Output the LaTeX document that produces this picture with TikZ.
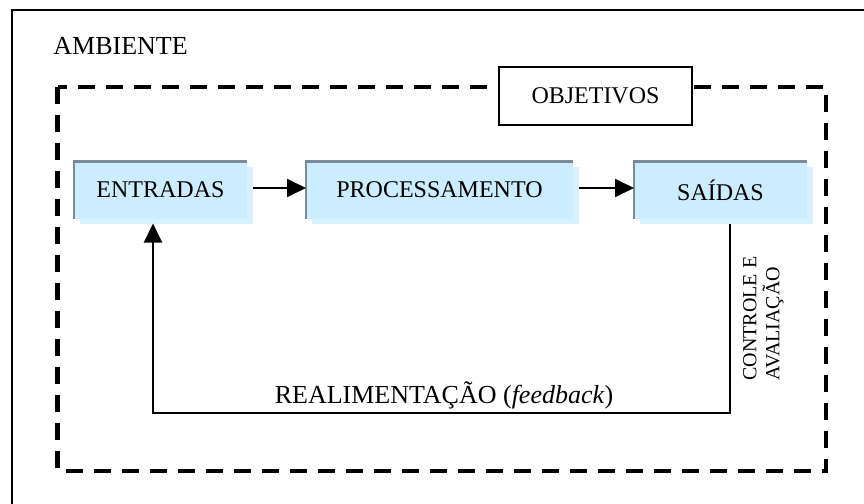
\documentclass[tikz,border=0pt]{standalone}
\usepackage{fontspec}
\setmainfont{Liberation Serif}
\usetikzlibrary{arrows.meta,shadows}
\definecolor{boxfill}{RGB}{204,236,255}
\definecolor{boxshadow}{RGB}{216,241,255}
\definecolor{boxedge}{RGB}{122,138,152}
\begin{document}
\begin{tikzpicture}[x=0.5pt,y=-0.5pt,
  txt/.style={font=\fontsize{12}{14}\selectfont},
  bigtxt/.style={font=\fontsize{13}{15}\selectfont},
  procbox/.style={txt, fill=boxfill, minimum height=28.5pt, inner sep=0pt, outer sep=0pt,
    drop shadow={shadow xshift=2.75pt, shadow yshift=-2.5pt, fill=boxshadow, opacity=1}},
  edge3d/.style={draw=boxedge, line width=1.2pt},
  conn/.style={line width=1pt},
  arr/.style={conn, -{Triangle[length=9.5pt,width=9pt]}},
  envline/.style={line width=2.25pt, dash pattern=on 8.5pt off 5.5pt},
]
\useasboundingbox (0,0) rectangle (864,504);
\clip (0,0) rectangle (864,504);
% outer frame (ambiente)
\draw[line width=0.75pt] (12,10) rectangle (880,520);
\node[bigtxt, anchor=base west, inner sep=0pt] (amb) at (53,54) {AMBIENTE};
% system boundary
\draw[envline] (57.5,87) rectangle (826,471);
\node[txt, draw, fill=white, line width=1pt, minimum width=96.5pt, minimum height=29pt, inner sep=0pt] (obj) at (595.5,96) {OBJETIVOS};
% process boxes
\node[procbox, minimum width=86.5pt] (ent) at (160.5,190) {ENTRADAS};
\node[procbox, minimum width=133.5pt] (proc) at (439.5,190) {PROCESSAMENTO};
\node[procbox, minimum width=86.5pt] (sai) at (720.5,190) {SAÍDAS};
\foreach \n in {ent,proc,sai}
  \draw[edge3d] (\n.south west) -- (\n.north west) -- (\n.north east);
% connectors
\draw[arr] ([xshift=3pt,yshift=1pt]ent.east) -- ([yshift=1pt]proc.west);
\draw[arr] ([xshift=3pt,yshift=1pt]proc.east) -- ([yshift=1pt]sai.west);
\coordinate (fbl) at (153,413);
\draw[arr] ([xshift=4.75pt,yshift=-2.5pt]sai.south) |- (fbl) -- ([xshift=-3.75pt,yshift=-2.5pt]ent.south);
% labels
\node[bigtxt, anchor=base, inner sep=0pt] (fb) at (444,403) {REALIMENTAÇÃO (\textit{feedback})};
\node[font=\fontsize{10}{11.5}\selectfont, rotate=90, anchor=west, align=left, inner sep=0pt] (ctl) at (763.5,381) {CONTROLE E\\AVALIAÇÃO};
\end{tikzpicture}
\end{document}
